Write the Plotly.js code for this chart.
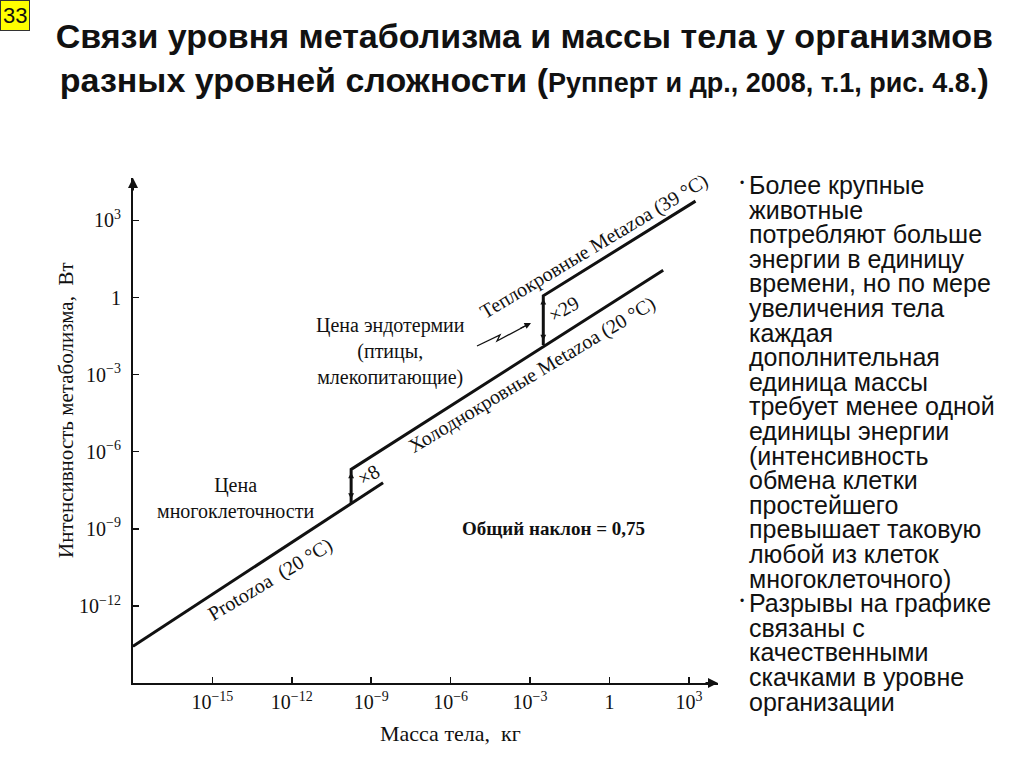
<!DOCTYPE html>
<html>
<head>
<meta charset="utf-8">
<script src="https://cdn.plot.ly/plotly-3.0.1.min.js"></script>
<style>html,body{margin:0;padding:0;background:#fff;}#chart{width:1024px;height:767px;}</style>
</head>
<body>
<div id="chart"></div>
<script>
// ---- data ----
const xTickVals = [1e-15, 1e-12, 1e-9, 1e-6, 1e-3, 1, 1e3];
const xTickText = ['10<sup>−15</sup>', '10<sup>−12</sup>', '10<sup>−9</sup>', '10<sup>−6</sup>', '10<sup>−3</sup>', '1', '10<sup>3</sup>'];
const yTickVals = [1e-12, 1e-9, 1e-6, 1e-3, 1, 1e3];
const yTickText = ['10<sup>−12</sup>', '10<sup>−9</sup>', '10<sup>−6</sup>', '10<sup>−3</sup>', '1', '10<sup>3</sup>'];

// Protozoa (20 °C)
const protozoaMass = [1e-18, 2.8e-9];
const protozoaRate = [2.7e-14, 6.2e-8];
// Cold-blooded Metazoa (20 °C), starting with the "x8" jump
const coldMass = [1.74e-10, 1.74e-10, 107];
const coldRate = [9.5e-9, 2.04e-7, 11.5];
// Warm-blooded Metazoa (39 °C), starting with the "x29" jump
const warmMass = [3.16e-3, 3.16e-3, 1780];
const warmRate = [0.0141, 1.17, 5620];

const bulletLines = [
  'Более крупные', 'животные', 'потребляют больше', 'энергии в единицу',
  'времени, но по мере', 'увеличения тела', 'каждая', 'дополнительная',
  'единица массы', 'требует менее одной', 'единицы энергии', '(интенсивность',
  'обмена клетки', 'простейшего', 'превышает таковую', 'любой из клеток',
  'многоклеточного)',
  'Разрывы на графике', 'связаны с', 'качественными', 'скачками в уровне', 'организации'
];
const bulletStarts = [0, 17];

// ---- layout helpers ----
const L = 133, R = 718, T = 178, B = 683;
const px2paperX = p => (p - L) / (R - L);
const px2paperY = p => (B - p) / (B - T);
const lg = Math.log10;

const serif = 'Liberation Serif, Times New Roman, serif';
const sans = 'Liberation Sans, Arial, sans-serif';
const lineStyle = {color: '#111', width: 3};

const traces = [
  {x: protozoaMass, y: protozoaRate, mode: 'lines', line: lineStyle, name: 'Protozoa'},
  {x: coldMass, y: coldRate, mode: 'lines', line: lineStyle, name: 'Холоднокровные Metazoa'},
  {x: warmMass, y: warmRate, mode: 'lines', line: lineStyle, name: 'Теплокровные Metazoa'}
];

const ann = [];
function txt(x, y, text, size, opts) {
  ann.push(Object.assign({x: x, y: y, xref: 'x', yref: 'y', xanchor: 'center', yanchor: 'middle',
    text: text, showarrow: false,
    font: {family: serif, size: size, color: '#111'}}, opts || {}));
}
// rotated line labels
txt(-12.81, -10.98, 'Protozoa  (20 °C)', 20, {textangle: -31});
txt(-2.91, -3.0, 'Холоднокровные Metazoa (20 °C)', 20, {textangle: -31});
txt(-0.60, 2.0, 'Теплокровные Metazoa (39 °C)', 20, {textangle: -31});
txt(-1.74, -0.44, '×29', 20, {textangle: -31});
txt(-9.11, -6.91, '×8', 20, {textangle: -31});
txt(-8.28, -2.10, 'Цена эндотермии<br>(птицы,<br>млекопитающие)', 20);
txt(-14.13, -7.80, 'Цена<br>многоклеточности', 20);
txt(-2.11, -8.97, '<b>Общий наклон = 0,75</b>', 19);

// double-headed jump arrows
[[coldMass, coldRate], [warmMass, warmRate]].forEach(function (s) {
  ann.push({x: lg(s[0][1]), y: lg(s[1][1]), ax: lg(s[0][0]), ay: lg(s[1][0]),
    xref: 'x', yref: 'y', axref: 'x', ayref: 'y', text: '', showarrow: true,
    arrowhead: 2, startarrowhead: 2, arrowside: 'end+start', arrowsize: 0.9, startarrowsize: 0.9,
    arrowwidth: 1.3, arrowcolor: '#111', standoff: 3, startstandoff: 3});
});

// axis arrows
ann.push({x: 1, y: 0, xref: 'paper', yref: 'paper', ax: -14, ay: 0, text: '', showarrow: true,
  arrowhead: 2, arrowsize: 1, arrowwidth: 2, arrowcolor: '#111'});
ann.push({x: 0, y: 1, xref: 'paper', yref: 'paper', ax: 0, ay: 14, text: '', showarrow: true,
  arrowhead: 2, arrowsize: 1, arrowwidth: 2, arrowcolor: '#111'});

// zig-zag arrow head (endothermy cost)
ann.push({x: px2paperX(531), y: px2paperY(323), xref: 'paper', yref: 'paper',
  ax: -12, ay: 6, text: '', showarrow: true, arrowhead: 2, arrowsize: 1, arrowwidth: 1.3, arrowcolor: '#111'});

// axis titles
ann.push({x: px2paperX(450), y: px2paperY(733), xref: 'paper', yref: 'paper', xanchor: 'center', yanchor: 'middle',
  text: 'Масса тела,  кг', showarrow: false, font: {family: serif, size: 22, color: '#111'}});
ann.push({x: px2paperX(66), y: px2paperY(410), xref: 'paper', yref: 'paper', xanchor: 'center', yanchor: 'middle',
  text: 'Интенсивность метаболизма,  Вт', showarrow: false, textangle: -90,
  font: {family: serif, size: 21, color: '#111'}});

// right text block
bulletLines.forEach(function (line, i) {
  const py = 185 + i * 24.6;
  ann.push({x: px2paperX(747), y: px2paperY(py), xref: 'paper', yref: 'paper', xanchor: 'left', yanchor: 'middle',
    text: line, showarrow: false, font: {family: sans, size: 25, color: '#111'}});
});
bulletStarts.forEach(function (i) {
  const py = 185 + i * 24.6;
  ann.push({x: px2paperX(742), y: px2paperY(py - 2), xref: 'paper', yref: 'paper', xanchor: 'center', yanchor: 'middle',
    text: '•', showarrow: false, font: {family: sans, size: 12, color: '#111'}});
});

// slide number box
ann.push({x: px2paperX(0), y: px2paperY(0), xref: 'paper', yref: 'paper', xanchor: 'left', yanchor: 'top',
  text: '33', showarrow: false,
  bgcolor: '#ffff00', bordercolor: '#333', borderwidth: 1, borderpad: 2,
  font: {family: sans, size: 22, color: '#111'}});

const layout = {
  width: 1024, height: 767,
  margin: {l: L, r: 1024 - R, t: T, b: 767 - B, pad: 0},
  paper_bgcolor: '#fff', plot_bgcolor: '#fff',
  showlegend: false,
  title: {
    text: '<b>Связи уровня метаболизма и массы тела у организмов<br>разных уровней сложности (<span style="font-size:27px">Рупперт и др., 2008, т.1, рис. 4.8.</span>)</b>',
    font: {family: sans, size: 34, color: '#111'},
    x: 0.512, xanchor: 'center', y: 1 - 48 / 767, yanchor: 'top', yref: 'container'
  },
  xaxis: {
    type: 'log', range: [-18, 4.1], tickvals: xTickVals, ticktext: xTickText,
    showgrid: false, zeroline: false, showline: true, linecolor: '#111', linewidth: 2,
    ticks: 'inside', ticklen: 6, tickwidth: 1.5, tickcolor: '#111',
    tickfont: {family: serif, size: 20, color: '#111'}
  },
  yaxis: {
    type: 'log', range: [-15, 4.65], tickvals: yTickVals, ticktext: yTickText,
    showgrid: false, zeroline: false, showline: true, linecolor: '#111', linewidth: 2,
    ticks: 'inside', ticklen: 6, tickwidth: 1.5, tickcolor: '#111',
    tickfont: {family: serif, size: 20, color: '#111'}, ticklabelstandoff: 6
  },
  shapes: [{
    type: 'path', xref: 'paper', yref: 'paper',
    path: 'M ' + px2paperX(477) + ' ' + px2paperY(346) + ' L ' + px2paperX(500) + ' ' + px2paperY(335) +
          ' L ' + px2paperX(497) + ' ' + px2paperY(341) + ' L ' + px2paperX(529) + ' ' + px2paperY(324),
    line: {color: '#111', width: 1.3}
  }],
  annotations: ann
};

Plotly.newPlot('chart', traces, layout, {displayModeBar: false, staticPlot: true});
</script>
</body>
</html>
